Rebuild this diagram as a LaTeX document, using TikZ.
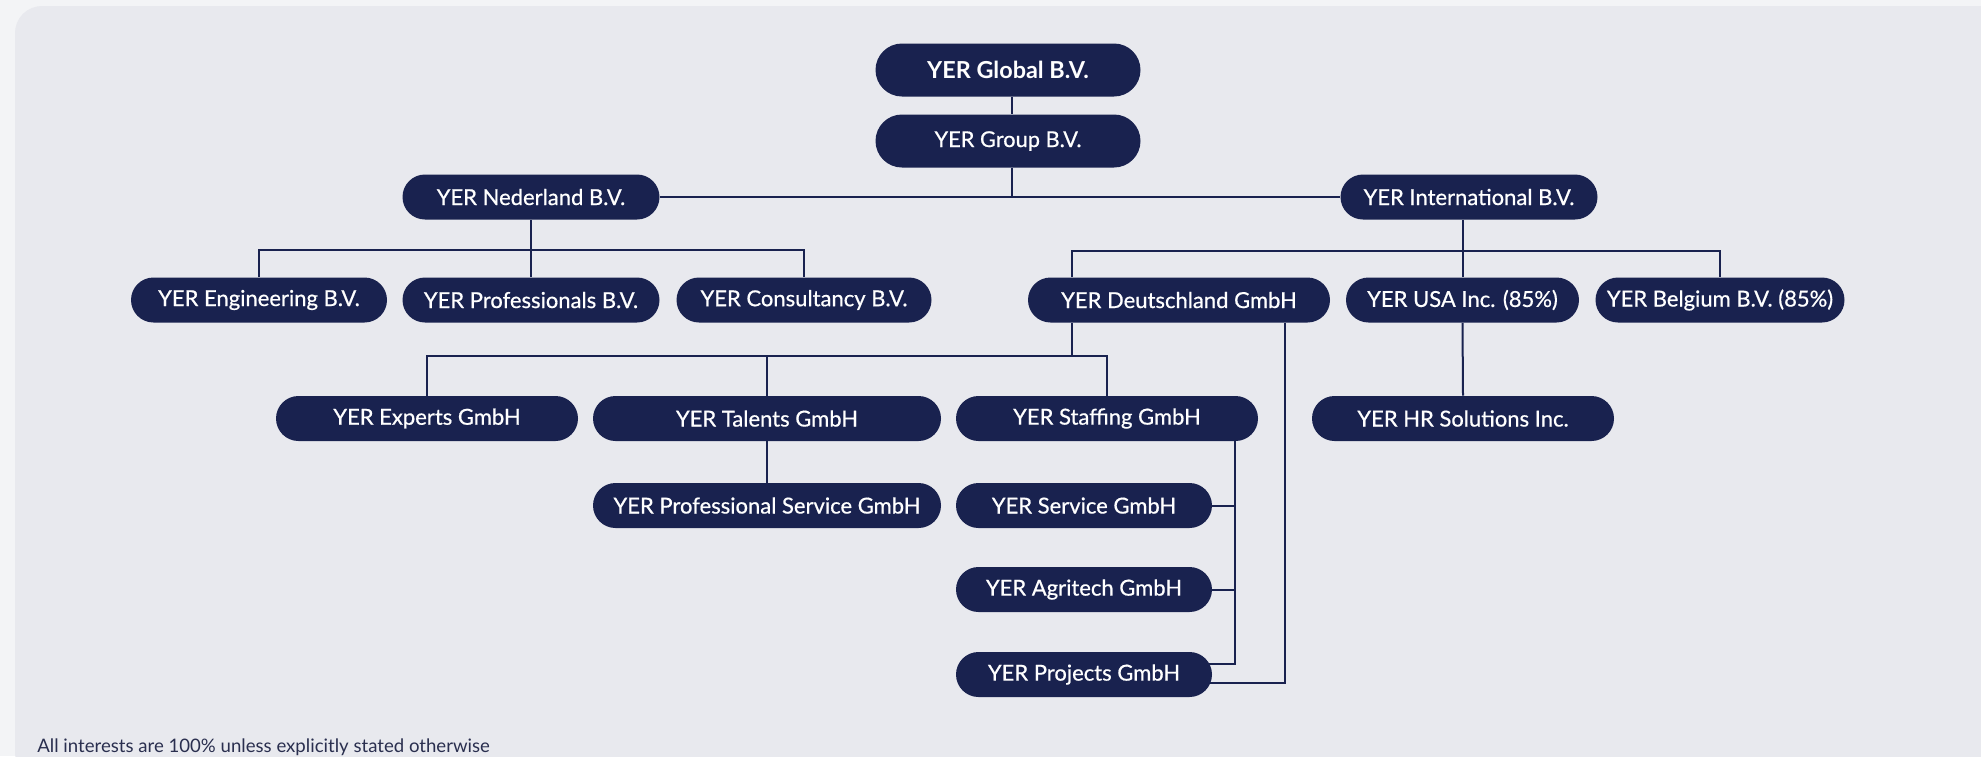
\documentclass[tikz,border=0pt]{standalone}
\usepackage{fontspec}
\setmainfont{Lato}
\newfontfamily\nodefont{Lato}[FakeBold=0.6]
\usetikzlibrary{calc}
\definecolor{navy}{HTML}{19224F}
\definecolor{panelbg}{HTML}{E8E9EE}
\definecolor{outerbg}{HTML}{F3F4F6}
\definecolor{notecol}{HTML}{2A2F4F}
\pgfdeclarelayer{panel}
\pgfdeclarelayer{edges}
\pgfsetlayers{panel,edges,main}
\begin{document}
\begin{tikzpicture}[x=0.5pt,y=-0.5pt,
  pill/.style={fill=navy, text=white, rounded corners=11.25pt, minimum height=22.5pt, inner sep=0pt, font=\nodefont\fontsize{11}{13}\selectfont},
  toppill/.style={pill, rounded corners=13.25pt, minimum height=26.5pt, font=\nodefont\fontsize{10.9}{13}\selectfont},
  link/.style={draw=navy, line width=1pt},
]
\useasboundingbox (0,0) rectangle (1981,756);
\begin{pgfonlayer}{panel}
\begin{scope}
\clip (0,0) rectangle (1981,756);
\fill[outerbg] (0,0) rectangle (1981,756);
\fill[panelbg, rounded corners=13.5pt] (15,6) rectangle (2100,780);
\end{scope}
\end{pgfonlayer}

\node[toppill, minimum width=132.5pt, font=\fontsize{11.7}{13}\selectfont\bfseries] (global) at (1008,70) {YER Global B.V.};
\node[toppill, minimum width=132.5pt] (group) at (1008,141) {YER Group B.V.};
\node[pill, minimum width=128.5pt] (ned) at (531,197) {YER Nederland B.V.};
\node[pill, minimum width=128.5pt] (intl) at (1469,197) {YER International B.V.};
\node[pill, minimum width=128pt] (eng) at (259,300) {YER Engineering B.V.};
\node[pill, minimum width=128.5pt] (prof) at (531,300) {YER Professionals B.V.};
\node[pill, minimum width=127.5pt] (cons) at (804,300) {YER Consultancy B.V.};
\node[pill, minimum width=151pt] (deu) at (1179,300) {YER Deutschland GmbH};
\node[pill, minimum width=116.5pt] (usa) at (1462.5,300) {YER USA Inc. (85\%)};
\node[pill, minimum width=124.5pt] (bel) at (1720,300) {YER Belgium B.V. (85\%)};
\node[pill, minimum width=151pt] (exp) at (427,418.5) {YER Experts GmbH};
\node[pill, minimum width=174pt] (tal) at (767,418.5) {YER Talents GmbH};
\node[pill, minimum width=151pt] (staff) at (1107,418.5) {YER Staffing GmbH};
\node[pill, minimum width=151pt] (hr) at (1463,418.5) {YER HR Solutions Inc.};
\node[pill, minimum width=174pt] (ps) at (767,505.5) {YER Professional Service GmbH};
\node[pill, minimum width=128pt] (serv) at (1084,505.5) {YER Service GmbH};
\node[pill, minimum width=128pt] (agri) at (1084,589.5) {YER Agritech GmbH};
\node[pill, minimum width=128pt] (proj) at (1084,674.5) {YER Projects GmbH};

\node[anchor=base west, text=notecol, font=\fontsize{9.3}{10}\selectfont, inner sep=0pt] (note) at (37,752) {All interests are 100\% unless explicitly stated otherwise};

\coordinate (nbus) at (0,250);
\coordinate (ibus) at (0,251);
\coordinate (dbus) at (0,356);
\coordinate (py1) at (0,664);
\coordinate (py2) at (0,683);
\coordinate (dt) at ([xshift=-53.5pt]deu.north);
\coordinate (db) at ([xshift=-53.5pt]deu.south);
\coordinate (sv) at ([xshift=64pt]staff.south);
\coordinate (dv) at ([xshift=53pt]deu.south);

\begin{pgfonlayer}{edges}
\draw[link] ([xshift=2pt]global.south) -- ([xshift=2pt]group.north);
\draw[link] (ned.east) -- (intl.west);
\draw[link] ([xshift=2pt]group.south) -- ([xshift=2pt]group.south |- ned.east);
\draw[link] (ned.south) -- (prof.north);
\draw[link] (eng.north) -- (eng.north |- nbus) -| (cons.north);
\draw[link] (intl.south -| usa.north) -- (usa.north);
\draw[link] (dt) -- (dt |- ibus) -| (bel.north);
\draw[link] (db) -- (db |- dbus);
\draw[link] (exp.north) -- (exp.north |- dbus) -| (staff.north);
\draw[link] (tal.north) -- (tal.north |- dbus);
\draw[link] (tal.south) -- (ps.north);
\draw[link] (sv) -- (sv |- py1) -- (proj.center |- py1);
\draw[link] (serv.east) -- (serv.east -| sv);
\draw[link] (agri.east) -- (agri.east -| sv);
\draw[link] (dv) -- (dv |- py2) -- (proj.center |- py2);
\draw[link] (usa.south) -- (hr.north);
\end{pgfonlayer}
\end{tikzpicture}
\end{document}
